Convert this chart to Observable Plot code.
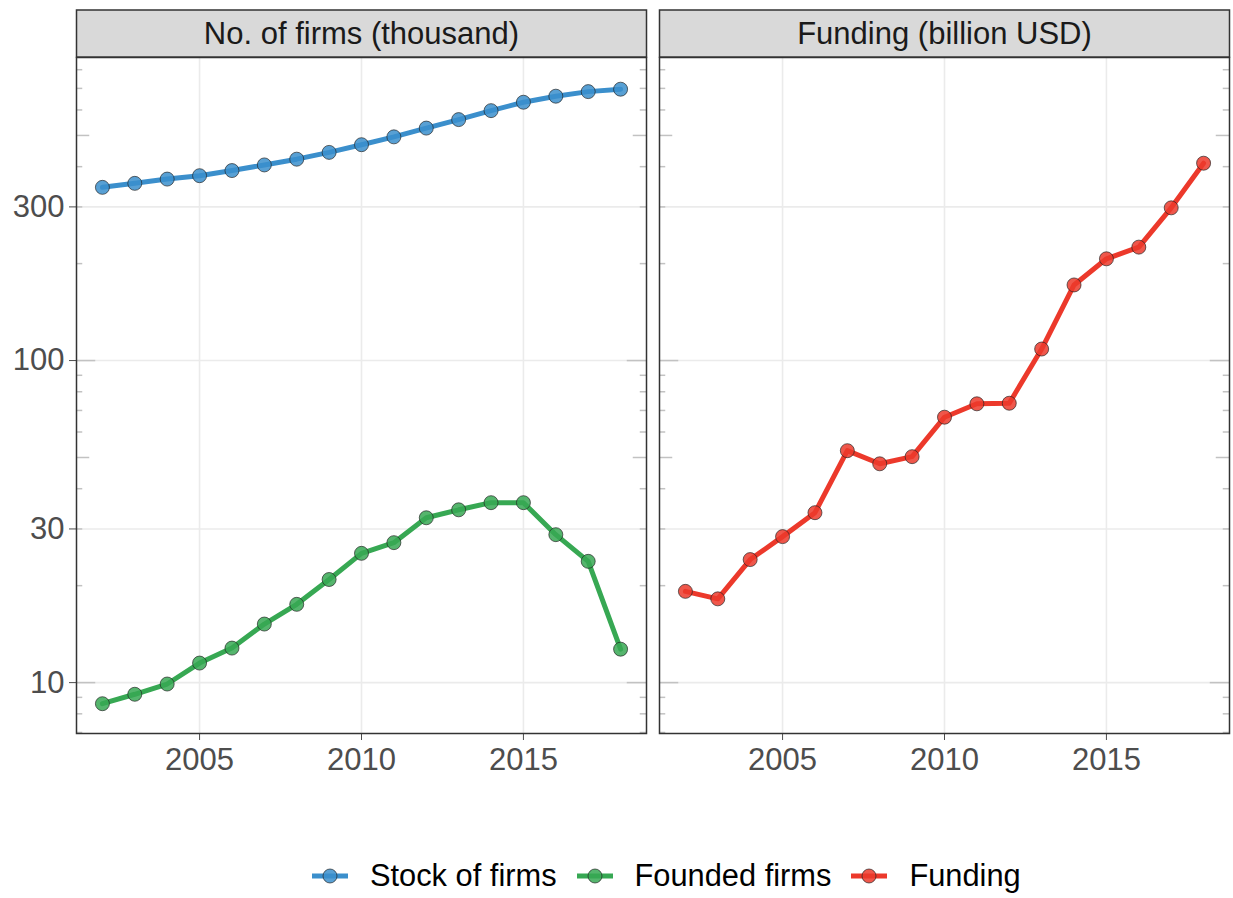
<!DOCTYPE html>
<html><head><meta charset="utf-8">
<script src="https://cdn.jsdelivr.net/npm/d3@7"></script>
<script src="https://cdn.jsdelivr.net/npm/@observablehq/plot@0.6"></script>
<style>
body{margin:0;background:#fff;font-family:"Liberation Sans",Arial,Helvetica,sans-serif;}
#chart{position:absolute;top:0;left:0;}
#legend{position:absolute;top:856px;left:0;width:1233px;height:40px;display:flex;justify-content:flex-start;align-items:center;font-size:30.8px;color:#000;padding-left:302px;box-sizing:border-box;}
.item{display:flex;align-items:center;margin:0 10px 0 10px;white-space:nowrap;}
.item svg{margin-right:22px;}
</style></head><body>
<div id="chart"></div><div id="legend"></div>
<script>
const years = [2002,2003,2004,2005,2006,2007,2008,2009,2010,2011,2012,2013,2014,2015,2016,2017,2018];
const stockOfFirms = [345,355,366,375,389,405,422,443,468,495,527,560,597,634,662,684,696];
const foundedFirms = [8.6,9.2,9.9,11.5,12.8,15.2,17.5,20.9,25.2,27.2,32.5,34.4,36.2,36.2,28.8,23.8,12.7];
const funding = [19.2,18.2,24.1,28.4,33.7,52.5,47.8,50.3,66.7,73.4,73.7,108.6,171.7,207,225,298,410];
const seriesNames = ["Stock of firms","Founded firms","Funding"];
const seriesColors = ["#3b8fcc","#37a853","#ec392b"];
const panelNames = ["No. of firms (thousand)","Funding (billion USD)"];
const yTicks = [10,30,100,300];
const xTicks = [2005,2010,2015];

const W = 1233, H = 800;
const mL = 75.5, mR = 3, mT = 57, mB = 67;
const gap = 13;
const innerW = W - mL - mR;
const bw = (innerW - gap) / 2;
const pInner = gap / (bw + gap);

const rows = [];
years.forEach((y,i)=>{
  rows.push({year:y, value:stockOfFirms[i], series:seriesNames[0], panel:panelNames[0]});
  rows.push({year:y, value:foundedFirms[i], series:seriesNames[1], panel:panelNames[0]});
  rows.push({year:y, value:funding[i], series:seriesNames[2], panel:panelNames[1]});
});

const yDomain = [6.95, 873];
const logVals = [];
for (let e = 0; e <= 3; e++) for (let m = 1; m <= 9; m++) {
  const v = m * Math.pow(10, e);
  if (v >= yDomain[0] && v <= yDomain[1]) logVals.push({v, len: m === 1 ? 20 : m === 5 ? 14 : 7});
}
const tickGroups = [20,14,7];
const logMarks = [];
tickGroups.forEach(len=>{
  const d = logVals.filter(t=>t.len===len);
  logMarks.push(Plot.tickY(d, {y:"v", stroke:"#c2c2c2", strokeWidth:1.5, insetRight: bw - len}));
  logMarks.push(Plot.tickY(d, {y:"v", stroke:"#c2c2c2", strokeWidth:1.5, insetLeft: bw - len}));
});

const plot = Plot.plot({
  width: W, height: H,
  marginLeft: mL, marginRight: mR, marginTop: mT, marginBottom: mB,
  style: {fontSize: "31px", fontFamily: '"Liberation Sans", Arial, Helvetica, sans-serif', color: "#4d4d4d", background: "#fff"},
  fx: {domain: panelNames, axis: null, paddingInner: pInner, paddingOuter: 0},
  x: {domain: [2001.2, 2018.8], ticks: xTicks, tickFormat: d => String(d), tickSize: 7, tickPadding: 7, label: null},
  y: {type: "log", domain: yDomain, ticks: yTicks, tickFormat: d => String(d), tickSize: 7, tickPadding: 5, label: null},
  color: {domain: seriesNames, range: seriesColors},
  marks: [
    Plot.ruleY(yTicks, {stroke: "#ebebeb", strokeWidth: 1.6}),
    Plot.ruleX(xTicks, {stroke: "#ebebeb", strokeWidth: 1.6}),
    ...logMarks,
    Plot.line(rows, {fx: "panel", x: "year", y: "value", z: "series", stroke: "series", strokeWidth: 5}),
    Plot.dot(rows, {fx: "panel", x: "year", y: "value", fill: "series", fillOpacity: 0.85, r: 7, stroke: "#222", strokeOpacity: 0.75, strokeWidth: 0.9}),
    Plot.frame({stroke: "#333", strokeWidth: 1.5})
  ]
});
document.getElementById("chart").appendChild(plot);

// strips above each panel, positioned from the rendered frames
const svg = d3.select(plot);
const svgBox = plot.getBoundingClientRect();
const frames = Array.from(plot.querySelectorAll('[aria-label="frame"] rect, [aria-label="frame"]'))
  .filter(n => n.tagName.toLowerCase() === "rect");
const boxes = frames.map(r => {const b = r.getBoundingClientRect(); return {x: b.left - svgBox.left, w: b.width, y: b.top - svgBox.top};})
  .sort((a,b)=>a.x-b.x);
const stripG = svg.append("g");
boxes.forEach((b,i)=>{
  stripG.append("rect").attr("x", b.x).attr("y", 10).attr("width", b.w).attr("height", mT - 10)
    .attr("fill", "#d9d9d9").attr("stroke", "#333").attr("stroke-width", 1.5);
  stripG.append("text").attr("x", b.x + b.w/2).attr("y", (10 + mT)/2).attr("dy", "0.35em")
    .attr("text-anchor", "middle").attr("fill", "#1a1a1a").attr("font-size", 31)
    .text(panelNames[i]);
});

// legend
const leg = d3.select("#legend");
seriesNames.forEach((s,i)=>{
  const it = leg.append("div").attr("class","item");
  const g = it.append("svg").attr("width", 36).attr("height", 20);
  g.append("line").attr("x1",0).attr("x2",36).attr("y1",10).attr("y2",10).attr("stroke",seriesColors[i]).attr("stroke-width",5);
  g.append("circle").attr("cx",18).attr("cy",10).attr("r",7).attr("fill",seriesColors[i]).attr("fill-opacity",0.85).attr("stroke","#222").attr("stroke-opacity",0.75).attr("stroke-width",0.9);
  it.append("span").text(s);
});
</script>
</body></html>
